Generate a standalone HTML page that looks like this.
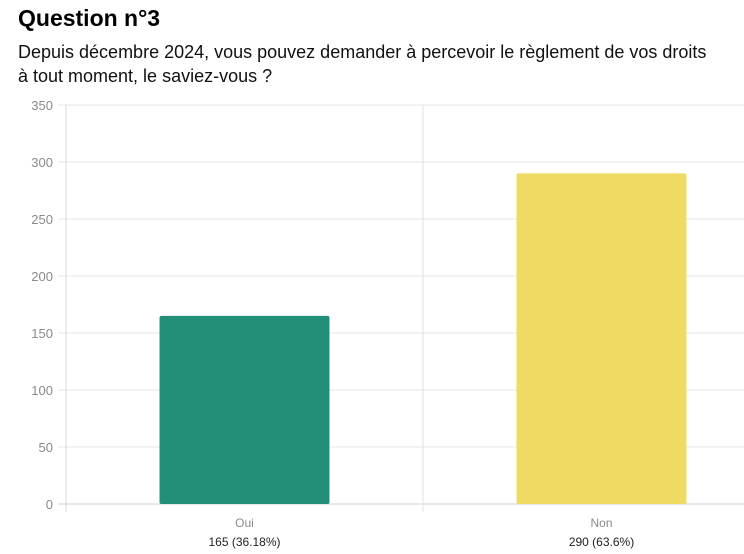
<!DOCTYPE html>
<html><head><meta charset="utf-8"><style>
body{margin:0;width:744px;height:554px;background:#fff;overflow:hidden;font-family:"Liberation Sans",sans-serif}
h1{position:absolute;left:18px;top:5px;margin:0;font-size:23px;font-weight:bold;color:#000}
p{position:absolute;left:18px;top:40px;margin:0;font-size:18px;line-height:24px;color:#111;width:695px}
svg{position:absolute;left:0;top:0}
</style></head><body>
<h1>Question n°3</h1>
<p>Depuis décembre 2024, vous pouvez demander à percevoir le règlement de vos droits à tout moment, le saviez-vous ?</p>
<svg id="c" width="744" height="554"></svg>
<script>
const categories=["Oui","Non"];
const values=[165,290];
const labels=["165 (36.18%)","290 (63.6%)"];
const colors=["#238f78","#efdb63"];
const ticks=[0,50,100,150,200,250,300,350];
const svg=document.getElementById('c');
const NS="http://www.w3.org/2000/svg";
const y0=504,y1=105,maxV=350;
const y=v=>y0-(v/maxV)*(y0-y1);
const plotL=66,band=357;
const xc=i=>plotL+band*i+band/2;
function mk(t,a){const e=document.createElementNS(NS,t);for(const k in a)e.setAttribute(k,a[k]);svg.appendChild(e);return e;}
ticks.forEach(t=>{
 const l=mk('line',{x1:58,x2:744,y1:y(t),y2:y(t),stroke:t?'#e6e6e6':'#d0d0d0','stroke-width':1});
 
 
 const tx=mk('text',{x:53,y:y(t)+5,'text-anchor':'end','font-size':13,fill:'#8a8a8a'});
 tx.textContent=t;
 
 
});
const ax=mk('line',{x1:66,x2:66,y1:105,y2:512,stroke:'#d8d8d8'});


const sep=mk('line',{x1:423,x2:423,y1:105,y2:512,stroke:'#e2e2e2'});


categories.forEach((c,i)=>{
 const cx=xc(i),w=170;
 const r=mk('rect',{x:cx-w/2,y:y(values[i]),width:w,height:y0-y(values[i]),fill:colors[i],rx:2});
 
 
 const t1=mk('text',{x:cx,y:527,'text-anchor':'middle','font-size':12,fill:'#8a8a8a'});
 t1.textContent=c;
 
 
 const t2=mk('text',{x:cx,y:546,'text-anchor':'middle','font-size':12,fill:'#222'});
 t2.textContent=labels[i];
 
 
});
</script>
</body></html>
